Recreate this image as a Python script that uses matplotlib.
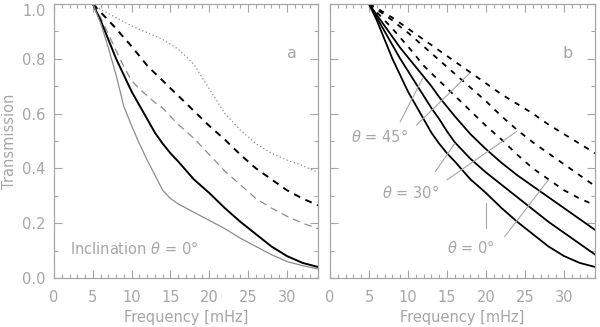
import matplotlib.pyplot as plt
from matplotlib.ticker import MultipleLocator

# frequency grid (mHz)
freq = [5, 6, 7, 8, 9, 10, 11, 12, 13, 14, 15, 16, 18, 20, 22, 24, 26, 28, 30, 32, 34]

# panel a
a_grey_solid = [1.0, 0.93, 0.84, 0.74, 0.625, 0.555, 0.49, 0.43, 0.375, 0.32, 0.29, 0.27,
                0.24, 0.21, 0.18, 0.145, 0.115, 0.085, 0.06, 0.045, 0.033]
a_grey_dash = [1.0, 0.95, 0.89, 0.83, 0.77, 0.72, 0.69, 0.665, 0.64, 0.62, 0.59, 0.56,
               0.51, 0.45, 0.39, 0.34, 0.29, 0.255, 0.225, 0.20, 0.18]
a_grey_dot = [1.0, 0.98, 0.965, 0.95, 0.935, 0.92, 0.907, 0.895, 0.883, 0.87, 0.853, 0.835,
              0.78, 0.69, 0.60, 0.54, 0.49, 0.455, 0.43, 0.41, 0.385]

# panel b (theta = 0, 30, 45 deg); theta = 0 is shared with panel a
sol_0 = [1.0, 0.94, 0.87, 0.80, 0.74, 0.68, 0.63, 0.58, 0.53, 0.49, 0.455, 0.425,
         0.36, 0.31, 0.255, 0.205, 0.16, 0.115, 0.08, 0.055, 0.04]
sol_30 = [1.0, 0.95, 0.90, 0.85, 0.80, 0.755, 0.71, 0.665, 0.62, 0.58, 0.535, 0.495,
          0.435, 0.385, 0.34, 0.295, 0.25, 0.205, 0.165, 0.125, 0.085]
sol_45 = [1.0, 0.96, 0.92, 0.88, 0.84, 0.805, 0.77, 0.735, 0.70, 0.66, 0.625, 0.59,
          0.525, 0.47, 0.42, 0.375, 0.335, 0.295, 0.255, 0.215, 0.175]
dash_0 = [1.0, 0.97, 0.94, 0.91, 0.877, 0.845, 0.81, 0.775, 0.747, 0.72, 0.692, 0.665,
          0.61, 0.555, 0.505, 0.45, 0.40, 0.36, 0.32, 0.29, 0.265]
dash_30 = [1.0, 0.98, 0.96, 0.94, 0.917, 0.895, 0.87, 0.845, 0.82, 0.795, 0.77, 0.745,
           0.695, 0.645, 0.59, 0.54, 0.495, 0.455, 0.415, 0.375, 0.335]
dash_45 = [1.0, 0.985, 0.967, 0.95, 0.93, 0.91, 0.89, 0.87, 0.85, 0.83, 0.81, 0.79,
           0.75, 0.71, 0.67, 0.635, 0.60, 0.56, 0.525, 0.49, 0.455]

# label pointer lines in panel b: (x0, x1, y0, y1)
pointers_45 = [(9.0, 11.9, 0.57, 0.73), (11.1, 17.9, 0.558, 0.747)]
pointers_30 = [(13.5, 16.0, 0.388, 0.491), (15.0, 23.9, 0.358, 0.534)]
pointers_0 = [(20.0, 20.0, 0.181, 0.273), (22.4, 28.0, 0.151, 0.358)]

TXT = "#a6a6a6"
GREY = "#8c8c8c"
FS = 10.5

plt.rcParams["font.family"] = "DejaVu Sans"

fig = plt.figure(figsize=(6.0, 3.27), dpi=100)
ax_a = fig.add_axes([0.09, 0.15, 0.44, 0.838])
ax_b = fig.add_axes([0.55, 0.15, 0.442, 0.838])

for ax in (ax_a, ax_b):
    ax.set_xlim(0, 34)
    ax.set_ylim(0, 1.0)
    ax.xaxis.set_major_locator(MultipleLocator(5))
    ax.xaxis.set_minor_locator(MultipleLocator(1))
    ax.yaxis.set_major_locator(MultipleLocator(0.2))
    ax.yaxis.set_minor_locator(MultipleLocator(0.1))
    ax.tick_params(which="both", direction="in", top=True, right=True,
                   color=TXT, labelcolor=TXT, labelsize=FS, width=0.8)
    ax.tick_params(which="major", length=6, pad=6)
    ax.tick_params(which="minor", length=3)
    ax.tick_params(axis="x", which="major", pad=9)
    for s in ax.spines.values():
        s.set_color(TXT)
        s.set_linewidth(0.9)
    ax.set_xlabel("Frequency [mHz]", color=TXT, fontsize=FS, labelpad=3)

ax_a.yaxis.set_major_formatter(plt.FormatStrFormatter("%.1f"))
ax_a.set_ylabel("Transmission", color=TXT, fontsize=FS, labelpad=4)
ax_b.tick_params(labelleft=False)

# panel a
ax_a.plot(freq, a_grey_dot, color=GREY, lw=0.9, ls=(0, (1, 2)))
ax_a.plot(freq, dash_0, color="black", lw=1.4, ls=(0, (3.5, 3.0)))
ax_a.plot(freq, a_grey_dash, color=GREY, lw=0.9, ls=(0, (6, 4)))
ax_a.plot(freq, sol_0, color="black", lw=1.4)
ax_a.plot(freq, a_grey_solid, color=GREY, lw=0.9)
ax_a.text(30.6, 0.82, "a", color=TXT, fontsize=FS + 1, ha="center", va="center")
ax_a.text(2.0, 0.106, r"Inclination $\theta$ = 0°", color=TXT, fontsize=FS,
          ha="left", va="center")

# panel b
for ys in (sol_0, sol_30, sol_45):
    ax_b.plot(freq, ys, color="black", lw=1.3)
for ys in (dash_0, dash_30, dash_45):
    ax_b.plot(freq, ys, color="black", lw=1.3, ls=(0, (3.0, 3.5)))

for seg in pointers_45 + pointers_30 + pointers_0:
    ax_b.plot(seg[:2], seg[2:], color=TXT, lw=0.8)

ax_b.text(6.4, 0.515, r"$\theta$ = 45°", color=TXT, fontsize=FS, ha="center", va="center")
ax_b.text(10.3, 0.312, r"$\theta$ = 30°", color=TXT, fontsize=FS, ha="center", va="center")
ax_b.text(18.0, 0.111, r"$\theta$ = 0°", color=TXT, fontsize=FS, ha="center", va="center")
ax_b.text(30.5, 0.82, "b", color=TXT, fontsize=FS + 1, ha="center", va="center")

# top y label sits just below the frame top, as in the original
fig.canvas.draw()
ax_a.get_yticklabels()[-1].set_va("top")
for lab in ax_a.get_yticklabels():
    if lab.get_text() == "1.0":
        lab.set_va("top")

fig.savefig("out.png", dpi=100, facecolor="white")
